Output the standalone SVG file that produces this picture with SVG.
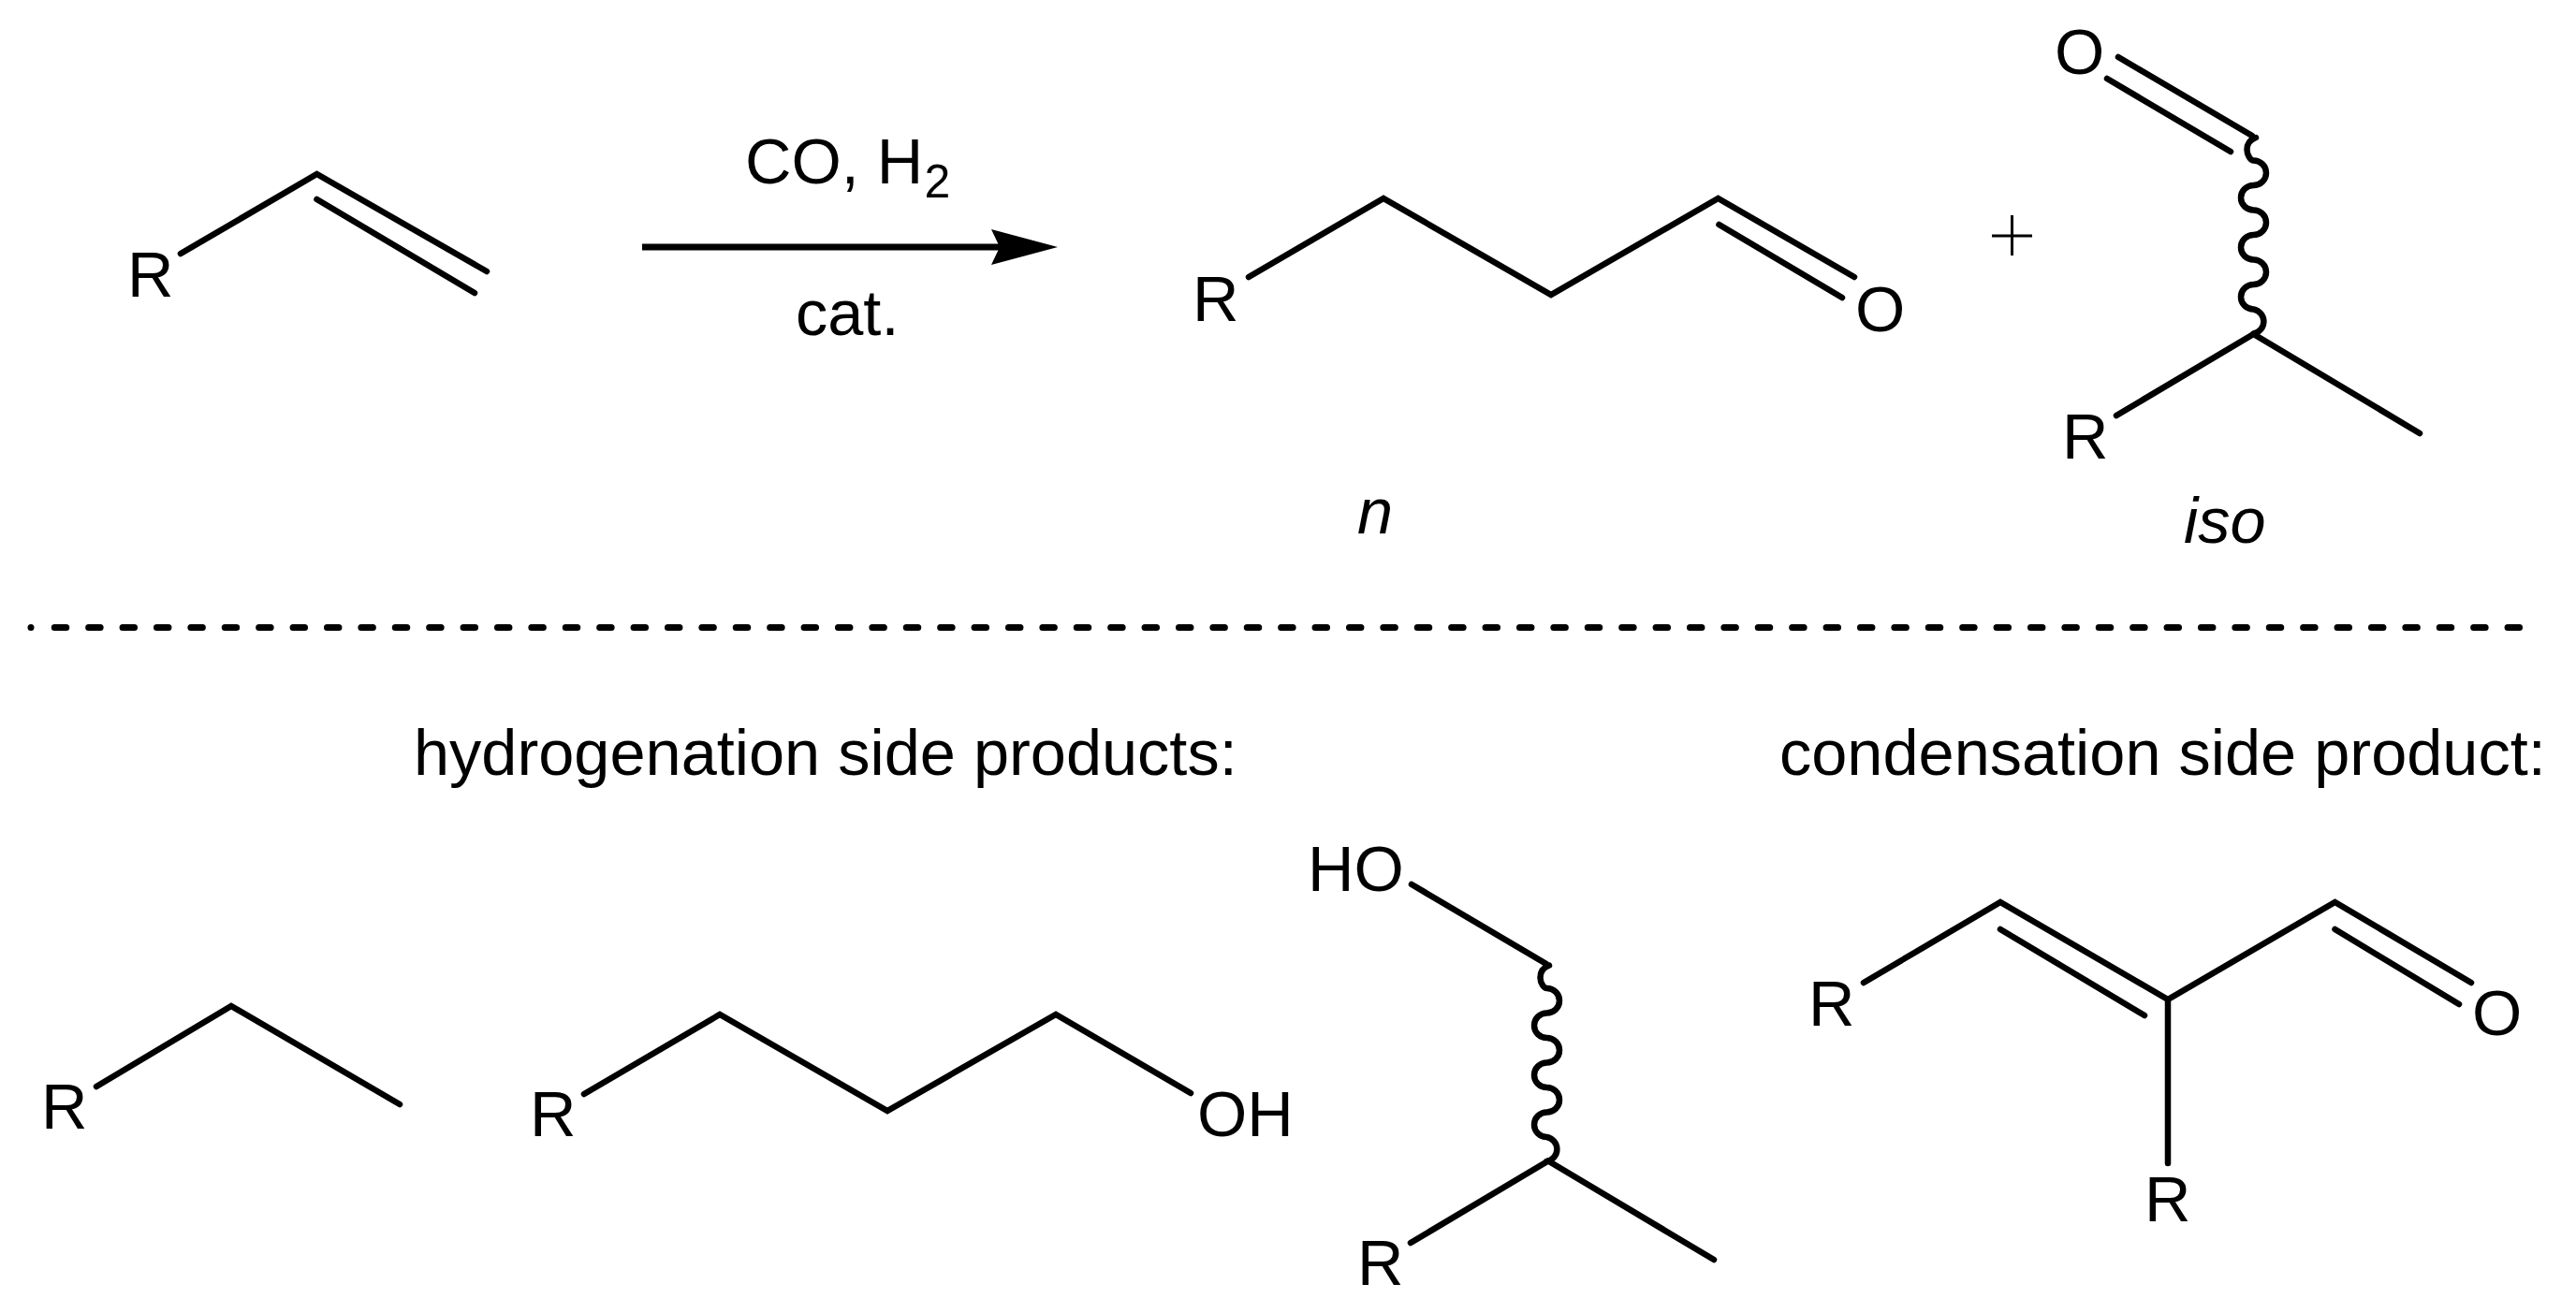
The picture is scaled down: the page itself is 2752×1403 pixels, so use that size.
<svg xmlns="http://www.w3.org/2000/svg" xmlns:xlink="http://www.w3.org/1999/xlink" width="2752" height="1403" viewBox="0 0 2752 1403">
<style>
text{font-family:"Liberation Sans",Arial,sans-serif;font-size:68.500px;fill:#000}
.i{font-style:italic}
.s{font-size:50px}
.b{fill:none;stroke:#000;stroke-width:6.500;stroke-linecap:round;stroke-linejoin:miter}
.d{stroke-width:7;stroke-dasharray:12.500 23.900}
.a{stroke-width:7;stroke-linecap:butt}
</style>
<defs>
<marker id="head" markerUnits="userSpaceOnUse" markerWidth="72" markerHeight="40" refX="9" refY="19" orient="auto"><path d="M0 0L71 19L0 38L9 19z" fill="#000"/></marker>
<path id="wave" class="b" d="M3.500 2C-2 4-6 8-6 15C-6 21-2 26.500 1 26.500a13.500 13.250 0 0 1 0 26.500a13.500 13.250 0 0 0 0 26.500a13.500 13.250 0 0 1 0 26.500a13.500 13.250 0 0 0 0 26.500a13.500 13.250 0 0 1 0 26.500a13.500 13.250 0 0 0 0 26.500a13.500 13.250 0 0 1 0 26"/>
</defs>
<rect width="2752" height="1403" fill="#fff"/>
<g id="connectors">
<line class="b a" x1="686" y1="264" x2="1068" y2="264" marker-end="url(#head)"/>
<path id="divider" class="b d" d="M33 670.500h0.010M58.250 670.500H2692"/>
</g>
<g id="reagents"><text x="796" y="196">CO, H</text><text class="s" x="987.500" y="211">2</text><text x="850" y="358">cat.</text></g>
<g id="alkene"><text x="136" y="317">R</text><path class="b" d="M193 271L338.500 186L520 290M338.500 213L507 313"/></g>
<g id="n-product"><text x="1274" y="343">R</text><path class="b" d="M1334 296L1478 212L1657 315L1835.500 212L1981 296M1836.500 240L1968 318"/><text x="1982" y="354">O</text><text class="i" x="1450" y="570">n</text></g>
<g id="plus"><path d="M2128 252H2171M2149.500 230V273" fill="none" stroke="#000" stroke-width="3"/></g>
<g id="iso-product"><text x="2195" y="79">O</text><path class="b" d="M2263 61L2406 145M2251 84L2383 162M2261 444L2407.500 357L2585 463"/><use xlink:href="#wave" x="2406.500" y="145"/><text x="2203" y="490">R</text><text class="i" x="2333" y="580">iso</text></g>
<g id="label-hydrogenation"><text x="442" y="828">hydrogenation side products:</text></g>
<g id="label-condensation"><text x="1901" y="828">condensation side product:</text></g>
<g id="alkane"><text x="44" y="1206">R</text><path class="b" d="M103 1161L247 1075L427 1180"/></g>
<g id="n-alcohol"><text x="566" y="1214">R</text><path class="b" d="M624 1169L769 1084L948 1187L1128 1084L1272 1168"/><text x="1279" y="1214">OH</text></g>
<g id="iso-alcohol"><text x="1397" y="951.500">HO</text><path class="b" d="M1508 945L1652 1030M1507 1328L1654 1240.500L1831 1346"/><use xlink:href="#wave" x="1651.500" y="1029.500"/><text x="1450" y="1373">R</text></g>
<g id="condensation-product"><text x="1932" y="1095.500">R</text><path class="b" d="M1991 1050L2137 964L2316 1068L2494.500 964L2640 1050M2137 993L2291 1085M2494.500 993L2627 1073M2316 1068V1243"/><text x="2291" y="1305">R</text><text x="2641" y="1106">O</text></g>
</svg>
